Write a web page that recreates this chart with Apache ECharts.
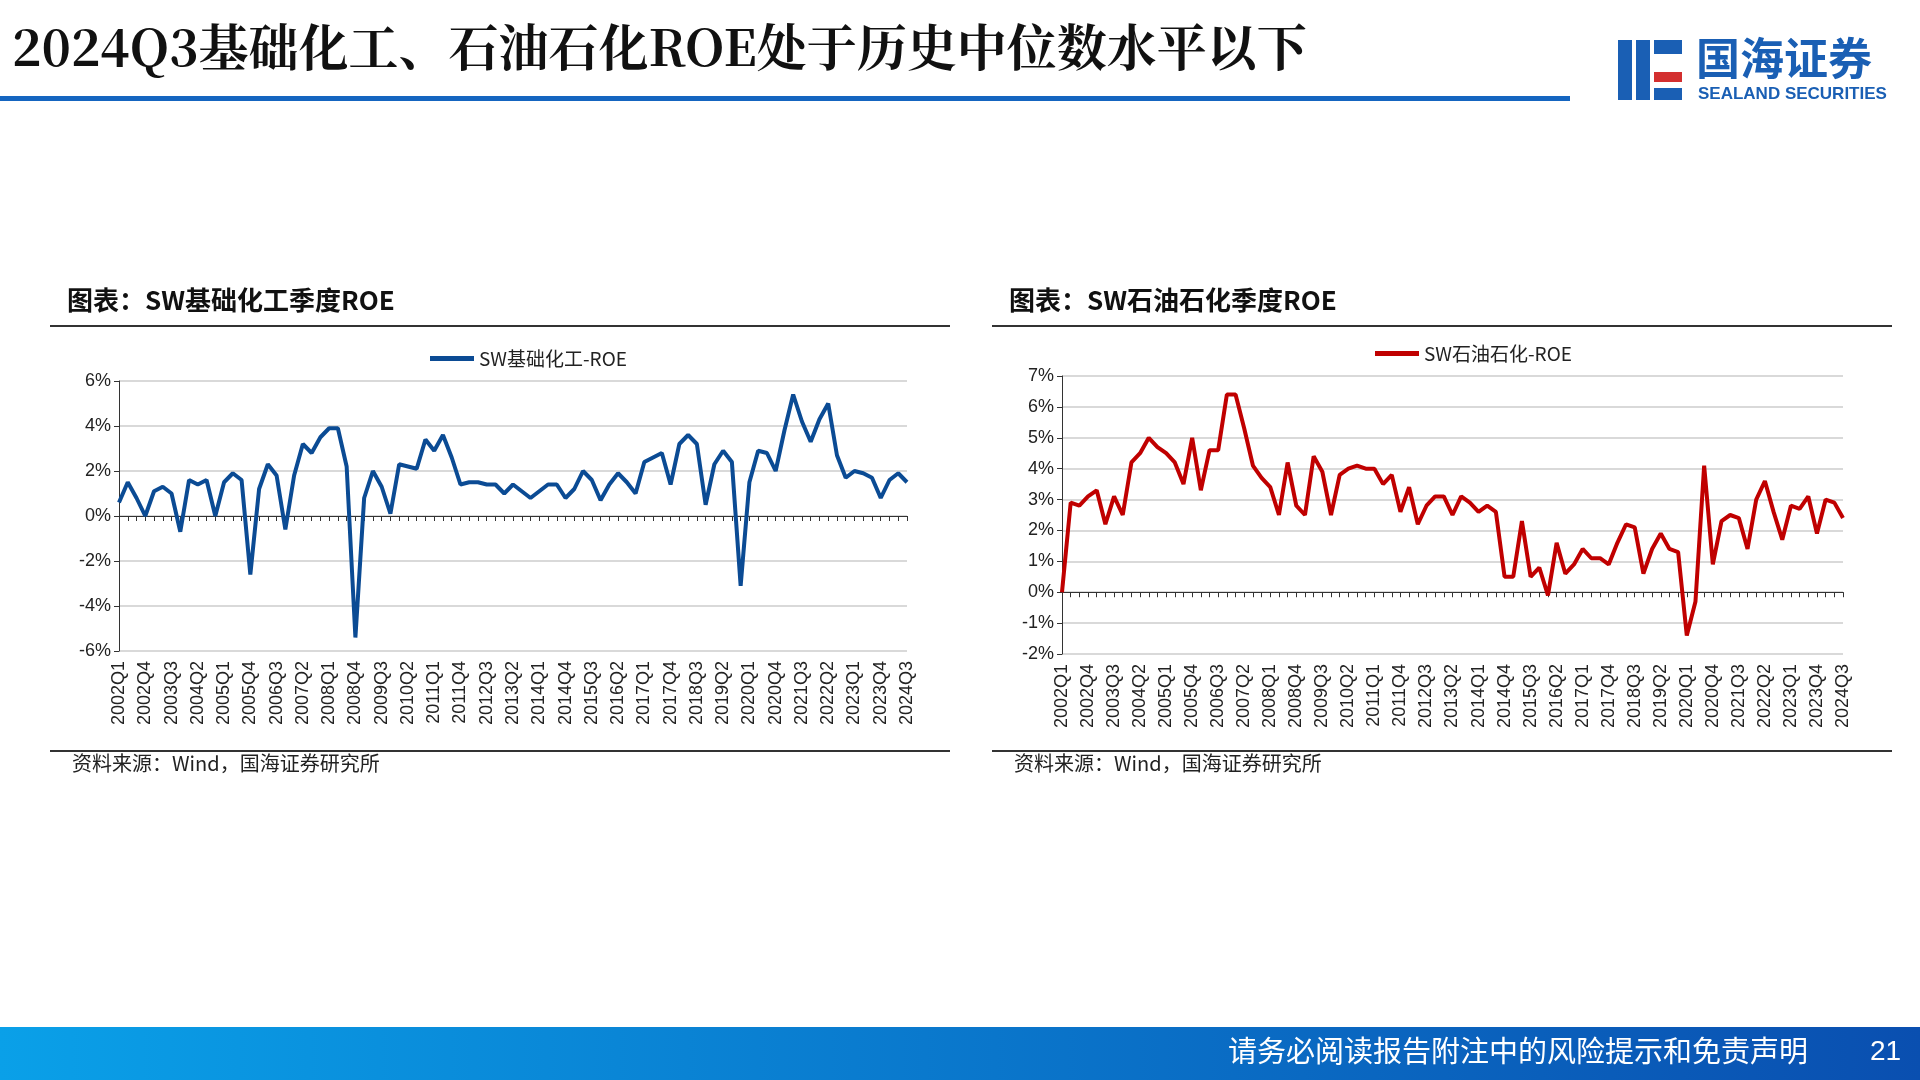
<!DOCTYPE html>
<html><head><meta charset="utf-8">
<script src="https://cdn.jsdelivr.net/npm/echarts@6/dist/echarts.min.js"></script>
<style>html,body{margin:0;padding:0;background:#fff}#c{width:1920px;height:1080px}</style>
</head><body><div id="c"></div>
<script>
const quarters=[];for(let y=2002;y<=2024;y++)for(let q=1;q<=4;q++){if(y===2024&&q===4)break;quarters.push(y+'Q'+q);}
const chemROE=[0.6,1.5,0.8,0.0,1.1,1.3,1.0,-0.7,1.6,1.4,1.6,0.0,1.5,1.9,1.6,-2.6,1.2,2.3,1.8,-0.6,1.8,3.2,2.8,3.5,3.9,3.9,2.2,-5.4,0.8,2.0,1.3,0.1,2.3,2.2,2.1,3.4,2.9,3.6,2.6,1.4,1.5,1.5,1.4,1.4,1.0,1.4,1.1,0.8,1.1,1.4,1.4,0.8,1.2,2.0,1.6,0.7,1.4,1.9,1.5,1.0,2.4,2.6,2.8,1.4,3.2,3.6,3.2,0.5,2.3,2.9,2.4,-3.1,1.5,2.9,2.8,2.0,3.8,5.4,4.2,3.3,4.3,5.0,2.7,1.7,2.0,1.9,1.7,0.8,1.6,1.9,1.5];
const petroROE=[0.0,2.9,2.8,3.1,3.3,2.2,3.1,2.5,4.2,4.5,5.0,4.7,4.5,4.2,3.5,5.0,3.3,4.6,4.6,6.4,6.4,5.3,4.1,3.7,3.4,2.5,4.2,2.8,2.5,4.4,3.9,2.5,3.8,4.0,4.1,4.0,4.0,3.5,3.8,2.6,3.4,2.2,2.8,3.1,3.1,2.5,3.1,2.9,2.6,2.8,2.6,0.5,0.5,2.3,0.5,0.8,-0.1,1.6,0.6,0.9,1.4,1.1,1.1,0.9,1.6,2.2,2.1,0.6,1.4,1.9,1.4,1.3,-1.4,-0.3,4.1,0.9,2.3,2.5,2.4,1.4,3.0,3.6,2.6,1.7,2.8,2.7,3.1,1.9,3.0,2.9,2.4];
const chart=echarts.init(document.getElementById('c'));
const axisFont={fontFamily:'Liberation Sans Narrow, Liberation Sans',fontSize:18,color:'#222'};
function xAx(i){return {type:'category',gridIndex:i,data:quarters,boundaryGap:false,
 axisLine:{lineStyle:{color:'#333'}},axisTick:{show:true,interval:0,lineStyle:{color:'#333'}},
 axisLabel:Object.assign({rotate:90,interval:2,margin:10},axisFont)};}
function yAx(i,min,max,iv){return {type:'value',gridIndex:i,min,max,interval:iv,
 axisLine:{show:true,lineStyle:{color:'#333'}},axisTick:{show:true,lineStyle:{color:'#333'}},
 splitLine:{lineStyle:{color:'#d9d9d9',width:2}},
 axisLabel:Object.assign({formatter:v=>v+'%'},axisFont)};}
chart.setOption({
 animation:false,
 grid:[{left:119,top:381,width:788,height:270},{left:1062,top:376,width:781,height:278}],
 xAxis:[xAx(0),xAx(1)],
 yAxis:[yAx(0,-6,6,2),yAx(1,-2,7,1)],
 legend:[{data:['SW基础化工-ROE'],left:425,top:344,itemWidth:44,itemHeight:5,icon:'rect',textStyle:{fontFamily:'Noto Sans CJK SC',fontSize:19,color:'#222'}},
         {data:['SW石油石化-ROE'],left:1370,top:339,itemWidth:44,itemHeight:5,icon:'rect',textStyle:{fontFamily:'Noto Sans CJK SC',fontSize:19,color:'#222'}}],
 series:[{name:'SW基础化工-ROE',type:'line',xAxisIndex:0,yAxisIndex:0,data:chemROE,showSymbol:false,lineStyle:{color:'#0b4b94',width:4},itemStyle:{color:'#0b4b94'}},
         {name:'SW石油石化-ROE',type:'line',xAxisIndex:1,yAxisIndex:1,data:petroROE,showSymbol:false,lineStyle:{color:'#c00000',width:4},itemStyle:{color:'#c00000'}}],
 graphic:[
  {type:'text',left:12,top:22,style:{text:'2024Q3基础化工、石油石化ROE处于历史中位数水平以下',font:'bold 50px "Noto Serif CJK SC","Noto Sans CJK SC"',fill:'#111'}},
  {type:'rect',shape:{x:0,y:96,width:1570,height:5},style:{fill:'#1565c0'}},
  {type:'rect',shape:{x:1618,y:40,width:14,height:60},style:{fill:'#1a5fb4'}},
  {type:'rect',shape:{x:1636,y:40,width:14,height:60},style:{fill:'#1a5fb4'}},
  {type:'rect',shape:{x:1654,y:40,width:28,height:14},style:{fill:'#1a5fb4'}},
  {type:'rect',shape:{x:1654,y:72,width:28,height:10},style:{fill:'#d32f2f'}},
  {type:'rect',shape:{x:1654,y:88,width:28,height:12},style:{fill:'#1a5fb4'}},
  {type:'text',left:1696,top:36,style:{text:'国海证券',font:'bold 44px "Noto Sans CJK SC"',fill:'#1a5fb4'}},
  {type:'text',left:1698,top:86,style:{text:'SEALAND SECURITIES',font:'bold 17px "Liberation Sans"',fill:'#1a5fb4'}},
  {type:'text',left:67,top:287,style:{text:'图表：SW基础化工季度ROE',font:'bold 26px "Noto Sans CJK SC"',fill:'#111'}},
  {type:'rect',shape:{x:50,y:325,width:900,height:2},style:{fill:'#333'}},
  {type:'rect',shape:{x:50,y:750,width:900,height:2},style:{fill:'#333'}},
  {type:'text',left:72,top:753,style:{text:'资料来源：Wind，国海证券研究所',font:'20px "Noto Sans CJK SC"',fill:'#222'}},
  {type:'text',left:1009,top:287,style:{text:'图表：SW石油石化季度ROE',font:'bold 26px "Noto Sans CJK SC"',fill:'#111'}},
  {type:'rect',shape:{x:992,y:325,width:900,height:2},style:{fill:'#333'}},
  {type:'rect',shape:{x:992,y:750,width:900,height:2},style:{fill:'#333'}},
  {type:'text',left:1014,top:753,style:{text:'资料来源：Wind，国海证券研究所',font:'20px "Noto Sans CJK SC"',fill:'#222'}},
  {type:'rect',shape:{x:0,y:1027,width:1920,height:53},style:{fill:new echarts.graphic.LinearGradient(0,0,1,0,[{offset:0,color:'#0aa0e8'},{offset:1,color:'#0a4fb0'}])}},
  {type:'text',left:1228,top:1036,style:{text:'请务必阅读报告附注中的风险提示和免责声明',font:'29px "Noto Sans CJK SC"',fill:'#fff'}},
  {type:'text',left:1870,top:1038,style:{text:'21',font:'28px "Liberation Sans"',fill:'#fff'}}
 ]
});
</script></body></html>
